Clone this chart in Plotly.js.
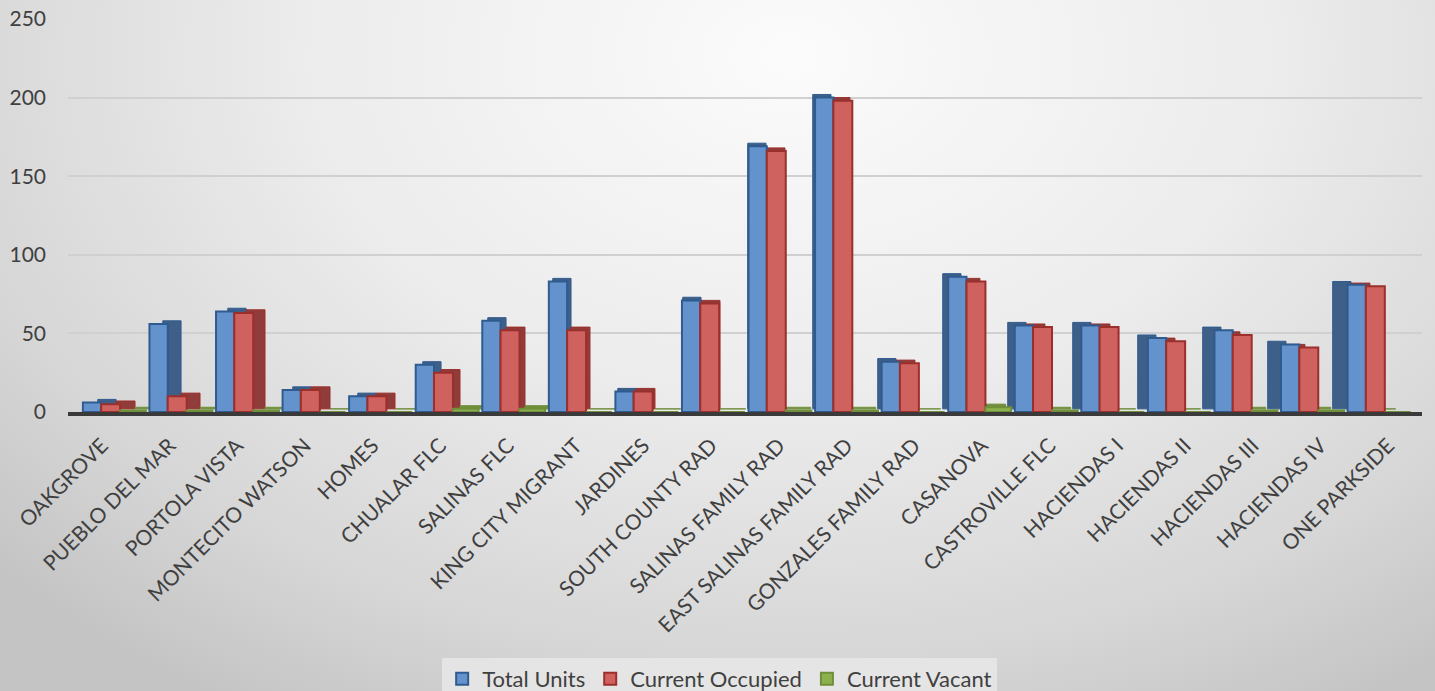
<!DOCTYPE html>
<html>
<head>
<meta charset="utf-8">
<script src="https://cdn.plot.ly/plotly-3.0.1.min.js"></script>
<style>
  html, body { margin: 0; padding: 0; width: 1435px; height: 691px; overflow: hidden; }
  body {
    background: radial-gradient(ellipse 75% 110% at 55% 8%, #fbfbfb 0%, #ececec 45%, #d6d6d6 80%, #c4c4c4 100%);
  }
  #chart { width: 1435px; height: 691px; }
</style>
</head>
<body>
<div id="chart"></div>
<script>
// Housing sites
const sites = [
  'OAKGROVE', 'PUEBLO DEL MAR', 'PORTOLA VISTA', 'MONTECITO WATSON', 'HOMES',
  'CHUALAR FLC', 'SALINAS FLC', 'KING CITY MIGRANT', 'JARDINES', 'SOUTH COUNTY RAD',
  'SALINAS FAMILY RAD', 'EAST SALINAS FAMILY RAD', 'GONZALES FAMILY RAD', 'CASANOVA',
  'CASTROVILLE FLC', 'HACIENDAS I', 'HACIENDAS II', 'HACIENDAS III', 'HACIENDAS IV', 'ONE PARKSIDE'
];

// Unit counts per site
const totalUnits      = [6, 56, 64, 14, 10, 30, 58, 83, 13, 71, 169, 200, 32, 86, 55, 55, 47, 52, 43, 81];
const currentOccupied = [5, 10, 63, 14, 10, 25, 52, 52, 13, 69, 166, 198, 31, 83, 54, 54, 45, 49, 41, 80];
const currentVacant   = [1, 1, 1, 0, 0, 2, 2, 0, 0, 0, 1, 1, 0, 3, 1, 0, 0, 1, 1, 0];

const yTicks = [0, 50, 100, 150, 200, 250];

const textFont = { family: 'Lato, "Open Sans", sans-serif', color: '#404040' };

const n = sites.length;
const mid = (n - 1) / 2;

// Columns of a group sit a little left of the label, more so toward the right end
const groupStart = sites.map((_, i) => -0.28 - 0.0168 * i);
// Perspective: side faces show on the right at the left end, on the left at the right end
const depthShift = sites.map((_, i) => 0.22 * (1 - i / mid));

const series = [
  { name: 'Total Units',      y: totalUnits,      at: 0,    width: 0.27,
    face: '#6492cc', side: '#3e5f88', edge: '#2f5b8f' },
  { name: 'Current Occupied', y: currentOccupied, at: 0.27, width: 0.28,
    face: '#cf625f', side: '#8f3c3a', edge: '#9b2f2c' },
  { name: 'Current Vacant',   y: currentVacant,   at: 0.55, width: 0.38,
    face: '#8db04e', side: '#6f8f3a', edge: '#6f8f3a' }
];

const sideTraces = series.map(s => ({
  type: 'bar', x: sites, y: s.y, base: 2,
  offset: groupStart.map((g, i) => g + s.at + depthShift[i]),
  width: s.width,
  marker: { color: s.side, line: { color: s.edge, width: 1 } },
  showlegend: false, hoverinfo: 'skip'
}));

const frontTraces = series.map(s => ({
  type: 'bar', name: s.name, x: sites, y: s.y,
  offset: groupStart.map(g => g + s.at),
  width: s.width,
  marker: { color: s.face, line: { color: s.edge, width: 2 } }
}));

const layout = {
  width: 1435, height: 691,
  margin: { l: 68, r: 13, t: 19, b: 279, autoexpand: false },
  paper_bgcolor: 'rgba(0,0,0,0)',
  plot_bgcolor: 'rgba(0,0,0,0)',
  barmode: 'overlay',
  showlegend: true,
  legend: {
    orientation: 'h',
    xref: 'container', yref: 'container',
    x: 0.5015, xanchor: 'center',
    y: 0.048, yanchor: 'top',
    bgcolor: 'rgba(232,232,232,0.85)',
    font: Object.assign({ size: 22 }, textFont),
    itemwidth: 30,
    traceorder: 'normal'
  },
  xaxis: {
    type: 'category',
    tickangle: -45,
    tickfont: Object.assign({ size: 21 }, textFont),
    ticklabelstandoff: 9,
    showline: true, linecolor: '#3a3a3a', linewidth: 4,
    ticks: '', showgrid: false, zeroline: false
  },
  yaxis: {
    range: [0, 250],
    tickvals: yTicks,
    ticktext: yTicks.map(String),
    tickfont: Object.assign({ size: 21 }, textFont),
    ticklabelstandoff: 21,
    showgrid: true, gridcolor: '#d0d0d0', gridwidth: 2,
    zeroline: false, showline: false, ticks: ''
  }
};

Plotly.newPlot('chart', sideTraces.concat(frontTraces), layout, { displayModeBar: false, staticPlot: true });
</script>
</body>
</html>
